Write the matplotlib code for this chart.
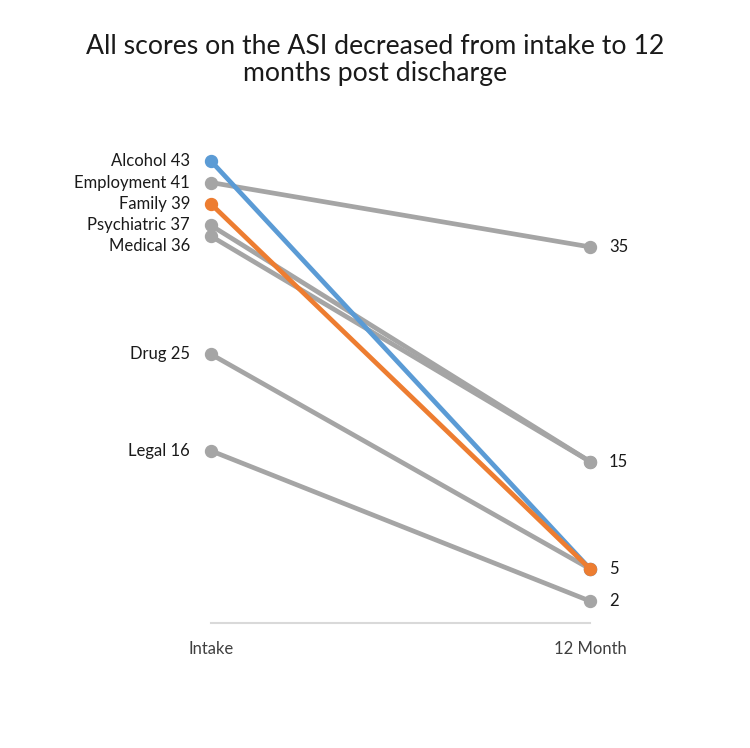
import matplotlib
matplotlib.use('Agg')
import matplotlib.pyplot as plt

# ASI scores
categories = ['Alcohol', 'Employment', 'Family', 'Psychiatric', 'Medical', 'Drug', 'Legal']
intake = [43, 41, 39, 37, 36, 25, 16]
month12 = [5, 35, 5, 15, 15, 5, 2]
periods = ['Intake', '12 Month']
colors = {'Alcohol': '#5B9BD5', 'Family': '#ED7D31'}
grey = '#A5A5A5'


def main():
    plt.rcParams['font.family'] = ['Lato', 'DejaVu Sans']

    fig = plt.figure(figsize=(7.5, 7.48), dpi=100)
    ax = fig.add_axes([211 / 750, (748 - 622.5) / 748, 379 / 750, 482.9 / 748])

    # grey lines first, coloured ones on top (orange last)
    order = [c for c in categories if c not in colors] + ['Alcohol', 'Family']
    for cat in order:
        i = categories.index(cat)
        ax.plot([0, 1], [intake[i], month12[i]], color=colors.get(cat, grey), lw=3.4,
                marker='o', markersize=8.6, solid_capstyle='round', zorder=3, clip_on=False)

    # medical label nudged down so it doesn't sit on top of psychiatric
    nudge = {'Medical': -10, 'Psychiatric': 0}
    for i, cat in enumerate(categories):
        ax.annotate('%s %d' % (cat, intake[i]), (0, intake[i]), xytext=(-21, nudge.get(cat, 0)),
                    textcoords='offset pixels', ha='right', va='center', fontsize=12, color='#1a1a1a')

    for v in sorted(set(month12)):
        ax.annotate('%d' % v, (1, v), xytext=(19, 0),
                    textcoords='offset pixels', ha='left', va='center', fontsize=12, color='#1a1a1a')

    ax.set_xlim(0, 1)
    ax.set_ylim(0, 45)
    ax.set_xticks([0, 1])
    ax.set_xticklabels(periods, fontsize=12, color='#404040')
    ax.tick_params(axis='x', length=0, pad=13)
    ax.set_yticks([])
    for s in ['left', 'right', 'top']:
        ax.spines[s].set_visible(False)
    ax.spines['bottom'].set_color('#D9D9D9')
    ax.spines['bottom'].set_linewidth(1.5)

    fig.text(0.5, 1 - 60 / 748, 'All scores on the ASI decreased from intake to 12\nmonths post discharge',
             ha='center', va='center', fontsize=19.2, color='#1a1a1a', linespacing=1.15)

    fig.savefig('out.png', dpi=100)


if __name__ == '__main__':
    main()
